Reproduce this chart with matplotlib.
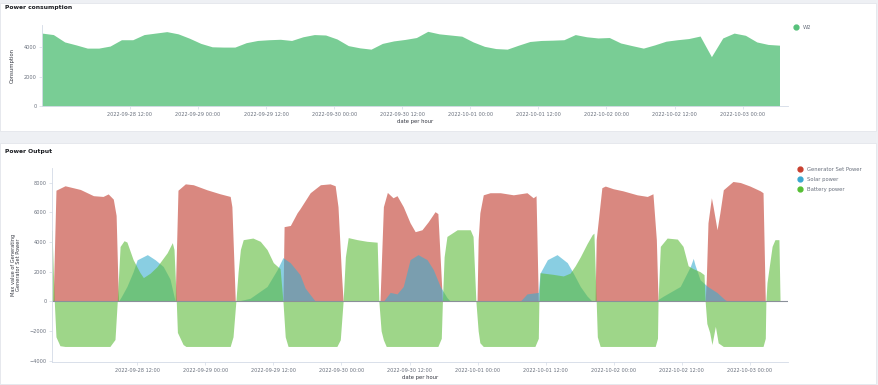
import numpy as np
import pandas as pd
import matplotlib
matplotlib.use("Agg")
import matplotlib.pyplot as plt
import matplotlib.dates as mdates
from matplotlib.lines import Line2D
from matplotlib.patches import Rectangle

# Данні: час у годинах від початку (2022-09-27 20:30)
start = pd.Timestamp("2022-09-27 20:30")

# Power consumption, кожні 2 години
cons_hours = list(range(0, 132, 2))
consumption = [4950, 4850, 4350, 4150, 3930, 3930, 4070, 4500, 4500, 4850,
               4950, 5050, 4900, 4600, 4250, 4020, 4000, 4000, 4300, 4450,
               4500, 4530, 4450, 4700, 4850, 4820, 4550, 4100, 3950, 3860,
               4250, 4420, 4520, 4650, 5070, 4900, 4820, 4740, 4350, 4050,
               3900, 3860, 4130, 4380, 4450, 4470, 4500, 4850, 4700, 4620,
               4650, 4280, 4100, 3930, 4150, 4400, 4500, 4580, 4750, 3350,
               4620, 4950, 4800, 4350, 4180, 4130]

# Power output: точки зламу
gen_hours = [0, 0.7, 1.2, 2.8, 5.5, 7.8, 9.5, 10.4, 11.3, 11.8, 12.2,
             22.2, 22.7, 24.0, 25.4, 27.8, 30.1, 31.9, 32.2, 32.8,
             41.2, 41.4, 42.5, 43.7, 44.2, 46.0, 47.8, 49.5, 50.4, 50.9, 51.5, 51.8,
             58.3, 58.9, 59.6, 60.6, 61.3, 62.4, 63.6, 64.5, 65.7, 66.8, 68.0, 68.5, 69.3,
             75.4, 75.6, 75.9, 76.5, 77.7, 79.5, 81.8, 84.2, 85.3, 85.8, 86.2,
             96.2, 96.4, 97.4, 98.0, 99.4, 101.1, 103.6, 105.4, 106.4, 107.0, 107.3,
             115.6, 115.8, 116.1, 116.7, 117.0, 117.7, 118.2, 118.8, 120.5, 121.8,
             123.5, 125.3, 125.8, 126.2, 128.8]
generator = [0, 0, 7500, 7800, 7550, 7130, 7080, 7250, 6900, 5800, 0,
             0, 7500, 7930, 7870, 7530, 7260, 7080, 6390, 0,
             0, 5040, 5120, 5980, 6250, 7330, 7870, 7930, 7800, 6390, 1900, 0,
             0, 6390, 7350, 6990, 7130, 6390, 5300, 4700, 4830, 5370, 6050, 5920, 0,
             0, 4160, 5980, 7190, 7330, 7330, 7190, 7330, 6990, 7130, 0,
             0, 4160, 7670, 7780, 7600, 7460, 7190, 7080, 7260, 4160, 0,
             0, 1460, 5300, 6990, 6390, 4830, 5980, 7530, 8090, 8020,
             7780, 7460, 7330, 0, 0]

solar_hours = [0, 12.2, 12.7, 13.7, 14.8, 15.5, 17.3, 18.7, 20.1, 21.3, 22.2,
               33.1, 35.4, 38.4, 40.2, 41.2, 42.5, 44.2, 45.1, 46.9,
               58.9, 60.1, 61.3, 62.4, 63.6, 65.0, 66.6, 67.7, 68.9, 70.1, 70.7,
               83.0, 84.2, 86.2, 86.5, 87.8, 89.5, 91.3, 92.3, 93.6, 94.8, 95.7,
               106.8, 108.2, 111.2, 113.0, 113.5, 113.8, 114.7, 116.0, 117.7,
               119.1, 119.6, 128.8]
solar = [0, 0, 300, 1000, 2000, 2800, 3150, 2800, 2350, 1500, 0,
         0, 200, 1000, 2150, 2950, 2600, 1800, 900, 0,
         0, 600, 500, 1000, 2810, 3150, 2810, 2140, 1010, 250, 0,
         0, 500, 600, 1900, 2810, 3150, 2610, 1940, 1000, 350, 0,
         0, 340, 1000, 2360, 2900, 2470, 1460, 1010, 590,
         100, 0, 0]

battery_hours = [0.2, 0.5, 0.9, 1.2, 1.9, 2.8, 10.7, 11.6, 12.0,
                 12.5, 13.2, 13.7, 14.8, 16.0, 16.6, 17.8, 19.0, 20.8, 21.7, 22.0, 22.4,
                 22.6, 23.6, 24.1, 31.9, 32.4, 32.9,
                 33.3, 33.7, 34.2, 35.9, 37.2, 38.4, 39.5, 40.7, 41.2,
                 41.6, 42.1, 50.7, 51.3, 51.8,
                 52.2, 52.7, 54.3, 56.0, 57.8, 58.1,
                 58.5, 58.9, 59.4, 68.5, 69.1, 69.3,
                 69.6, 70.1, 71.9, 74.2, 74.7, 75.2,
                 75.6, 75.9, 76.5, 85.6, 86.2, 86.3,
                 86.5, 88.8, 90.6, 91.8, 92.7, 93.6, 94.8, 95.7, 96.0, 96.4,
                 96.6, 97.1, 106.8, 107.2, 107.3,
                 107.7, 108.9, 110.7, 111.7, 112.6, 113.5, 114.7, 115.4, 115.6,
                 115.9, 116.4, 116.8, 117.4, 117.9, 118.8, 125.8, 126.2, 126.3,
                 126.5, 127.4, 127.9, 128.6, 128.8]
battery = [4800, 4800, 0, -2400, -3000, -3050, -3050, -2580, 0,
           3700, 4090, 4000, 2810, 1940, 1600, 1900, 2340, 3280, 3960, 3500, 0,
           -2100, -2920, -3050, -3050, -2400, 0,
           2000, 3500, 4160, 4270, 4050, 3490, 2610, 2200, 0,
           -2400, -3050, -3050, -2600, 0,
           3000, 4300, 4160, 4050, 3990, 0,
           -2000, -2600, -3050, -3050, -2500, 0,
           3000, 4380, 4830, 4830, 4380, 0,
           -2000, -2800, -3050, -3050, -2500, 0,
           1930, 1820, 1710, 1900, 2400, 3000, 3900, 4500, 4600, 0,
           -2400, -3050, -3050, -2500, 0,
           3710, 4270, 4200, 3710, 2400, 2200, 2000, 1800, 0,
           -1500, -2110, -2920, -1690, -2810, -3050, -3050, -2500, 0,
           1260, 3710, 4160, 4160, 0]

tick_times = pd.date_range("2022-09-28 12:00", periods=10, freq="12h")


def to_time(hours):
    return start + pd.to_timedelta(np.array(hours, dtype=float), unit="h")


W, H = 879, 385
fig = plt.figure(figsize=(W / 100, H / 100), dpi=100, facecolor="#eef0f4")

# Білі панелі (позаду осей)
for (x0, y0, x1, y1) in [(0, 3, 876, 131), (0, 143, 876, 384)]:
    fig.patches.append(Rectangle((x0 / W, 1 - y1 / H), (x1 - x0) / W, (y1 - y0) / H,
                                 transform=fig.transFigure, facecolor="white",
                                 edgecolor="#e3e6eb", lw=0.6, zorder=-5))

fig.text(5 / W, 1 - 8 / H, "Power consumption", fontsize=4.3, fontweight="bold",
         va="center", ha="left", color="#1a1c21")
fig.text(5 / W, 1 - 151 / H, "Power Output", fontsize=4.3, fontweight="bold",
         va="center", ha="left", color="#1a1c21")

tick_color = "#69707d"
spine_color = "#d3dae6"


def style_axis(ax):
    for s in ["top", "right"]:
        ax.spines[s].set_visible(False)
    for s in ["left", "bottom"]:
        ax.spines[s].set_color(spine_color)
        ax.spines[s].set_linewidth(0.6)
    ax.tick_params(labelsize=3.6, colors=tick_color, length=2, width=0.5, pad=2)
    ax.tick_params(axis="both", color=spine_color)
    ax.set_xticks(tick_times)
    ax.xaxis.set_major_formatter(mdates.DateFormatter("%Y-%m-%d %H:%M"))
    ax.set_facecolor("none")


# Верхній графік
ax1 = fig.add_axes([42 / W, 1 - 106 / H, 746 / W, 81 / H])
t_cons = to_time(cons_hours)
ax1.fill_between(t_cons, 0, consumption, color="#57c17b", alpha=0.8, lw=0)
ax1.set_ylim(0, 5500)
ax1.set_yticks([0, 2000, 4000])
ax1.set_xlim(to_time([0])[0], to_time([131.5])[0])
style_axis(ax1)
ax1.set_ylabel("Consumption", fontsize=3.8, color="#343741", labelpad=6)
ax1.set_xlabel("date per hour", fontsize=3.8, color="#343741", labelpad=2)

fig.legend(handles=[Line2D([], [], marker="o", ls="", color="#57c17b", markersize=3.5)],
           labels=["W2"], loc="upper left", bbox_to_anchor=(786 / W, 1 - 20 / H),
           frameon=False, fontsize=3.8, handletextpad=0.3, labelcolor=tick_color)

# Нижній графік
ax2 = fig.add_axes([52 / W, 1 - 362 / H, 736 / W, 194 / H])
red, blue, green = "#c0392b", "#3baed0", "#5dbb3a"
ax2.fill_between(to_time(gen_hours), 0, generator, color=red, alpha=0.6, lw=0)
ax2.fill_between(to_time(solar_hours), 0, solar, color=blue, alpha=0.6, lw=0)
ax2.fill_between(to_time(battery_hours), 0, battery, color=green, alpha=0.6, lw=0)
ax2.axhline(0, color="#8a8f99", lw=0.8)
ax2.set_ylim(-4100, 9000)
ax2.set_yticks([-4000, -2000, 0, 2000, 4000, 6000, 8000])
ax2.set_xlim(to_time([0.5])[0], to_time([130.2])[0])
style_axis(ax2)
ax2.set_ylabel("Max value of Generating\nGenerator Set Power", fontsize=3.6,
               color="#343741", labelpad=6, linespacing=1.0)
ax2.set_xlabel("date per hour", fontsize=3.8, color="#343741", labelpad=2)

handles = [Line2D([], [], marker="o", ls="", color=c, markersize=3.5)
           for c in ["#c8402f", "#3aa8cf", "#57bf35"]]
fig.legend(handles=handles, labels=["Generator Set Power", "Solar power", "Battery power"],
           loc="upper left", bbox_to_anchor=(790 / W, 1 - 162 / H), frameon=False,
           fontsize=3.8, handletextpad=0.3, labelspacing=1.0, labelcolor=tick_color)

fig.savefig("out.png", dpi=100, facecolor=fig.get_facecolor())
